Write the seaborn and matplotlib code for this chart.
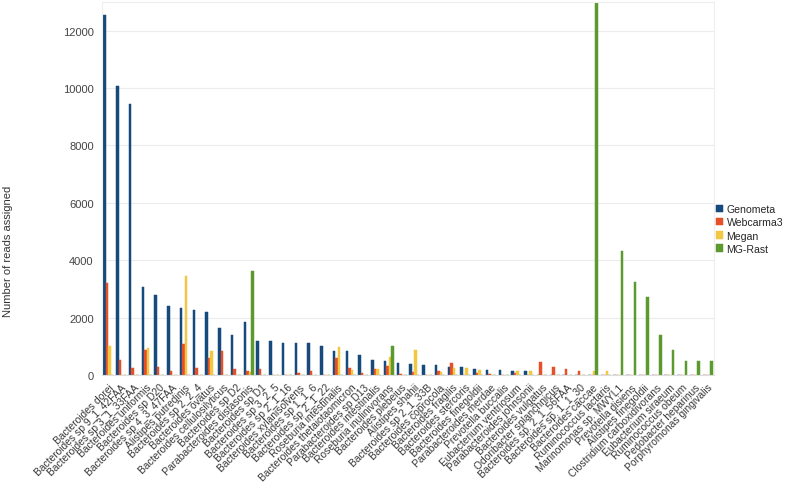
import matplotlib
matplotlib.use("Agg")
import matplotlib.pyplot as plt
import seaborn as sns
import pandas as pd
import numpy as np

categories = [
    "Bacteroides dorei", "Bacteroides sp 9_1_42FAA", "Bacteroides sp 3_1_33FAA",
    "Bacteroides uniformis", "Bacteroides sp D20", "Bacteroides sp 4_3_47FAA",
    "Alistipes putredinis", "Bacteroides sp 2_2_4", "Bacteroides ovatus",
    "Bacteroides cellulosilyticus", "Bacteroides sp D2", "Parabacteroides distasonis",
    "Bacteroides sp D1", "Bacteroides sp 3_2_5", "Bacteroides sp 2_1_16",
    "Bacteroides xylanisolvens", "Bacteroides sp 1_1_6", "Bacteroides sp 2_1_22",
    "Roseburia intestinalis", "Bacteroides thetaiotaomicron", "Parabacteroides sp D13",
    "Bacteroides intestinalis", "Roseburia inulinivorans", "Bacteroides plebeius",
    "Alistipes shahii", "Bacteroides sp 2_1_33B", "Bacteroides coprocola",
    "Bacteroides fragilis", "Bacteroides stercoris", "Bacteroides finegoldii",
    "Parabacteroides merdae", "Prevotella buccalis", "Eubacterium ventriosum",
    "Parabacteroides johnsonii", "Bacteroides vulgatus", "Odoribacter splanchnicus",
    "Bacteroides sp. 2_1_56FAA", "Bacteroides sp. 1_1_30", "Bacteroides caccae",
    "Ruminococcus lactaris", "Marinomonas sp. MWYL1", "Prevotella disiens",
    "Alistipes finegoldii", "Clostridium carboxidivorans", "Eubacterium siraeum",
    "Ruminococcus obeum", "Pedobacter heparinus", "Porphyromonas gingivalis",
]

genometa = [12530, 10070, 9440, 3080, 2790, 2420, 2330, 2270, 2190, 1630,
            1400, 1830, 1200, 1200, 1130, 1120, 1120, 1020, 850, 830,
            700, 520, 490, 420, 385, 350, 350, 290, 280, 220,
            185, 175, 140, 130, 0, 0, 0, 0, 0, 0,
            0, 0, 0, 0, 0, 0, 0, 0]
webcarma3 = [3220, 535, 230, 870, 290, 150, 1090, 255, 580, 840,
             210, 150, 210, 0, 0, 60, 130, 0, 605, 255,
             60, 210, 300, 25, 115, 0, 140, 430, 0, 80,
             35, 0, 80, 0, 450, 290, 210, 140, 0, 0,
             0, 0, 0, 0, 0, 0, 0, 0]
megan = [1010, 0, 0, 930, 0, 0, 3450, 0, 850, 0,
         0, 100, 0, 0, 0, 0, 0, 0, 990, 185,
         0, 200, 640, 0, 870, 0, 115, 255, 245, 165,
         0, 0, 150, 140, 0, 0, 0, 0, 140, 140,
         0, 0, 0, 0, 0, 0, 0, 0]
mgrast = [0, 0, 0, 0, 0, 0, 0, 0, 0, 0,
          0, 3640, 0, 0, 0, 0, 0, 0, 0, 0,
          0, 0, 1000, 0, 0, 0, 0, 0, 0, 0,
          0, 0, 0, 0, 0, 0, 0, 0, 15000, 0,
          4330, 3240, 2720, 1385, 885, 490, 490, 490]

series_names = ["Genometa", "Webcarma3", "Megan", "MG-Rast"]
colors = ["#174a7c", "#e4502a", "#f2c744", "#5c9a30"]

rows = []
for name, vals in zip(series_names, [genometa, webcarma3, megan, mgrast]):
    for c, v in zip(categories, vals):
        rows.append({"Species": c, "Method": name, "Reads": v})
df = pd.DataFrame(rows)

sns.set_theme(style="white")
plt.rcParams["font.family"] = ["Liberation Sans", "DejaVu Sans"]

fig = plt.figure(figsize=(7.87, 4.89), dpi=100)
ax = fig.add_axes([102 / 787, 1 - 376 / 489, (714 - 102) / 787, (376 - 3) / 489])

sns.barplot(data=df, x="Species", y="Reads", hue="Method", palette=colors,
            order=categories, hue_order=series_names, width=0.8,
            saturation=1, ax=ax, legend=True, linewidth=0)

# make thin bars look solid
for p in ax.patches:
    p.set_edgecolor(p.get_facecolor())
    p.set_linewidth(0.35)

ax.set_ylim(0, 13000)
ax.set_xlim(-0.5, len(categories) - 0.5)
ax.set_yticks(np.arange(0, 13000, 2000))
ax.yaxis.grid(True, color="#ececec", linewidth=0.8)
ax.set_axisbelow(True)
ax.tick_params(axis="y", length=0, labelsize=8, labelcolor="#444444", pad=6)

ax.set_xticks(range(len(categories)))
ax.set_xticklabels(categories, rotation=45, ha="right", rotation_mode="anchor",
                   fontsize=7.4, color="#383838")
ax.tick_params(axis="x", which="major", length=0, pad=5)
ax.set_xticks(np.arange(-0.5, len(categories), 1), minor=True)
ax.tick_params(axis="x", which="minor", length=4, color="#dddddd", width=0.8)

for s in ["top", "right", "left"]:
    ax.spines[s].set_color("#eeeeee")
    ax.spines[s].set_linewidth(0.8)
ax.spines["bottom"].set_color("#dddddd")
ax.spines["bottom"].set_linewidth(0.8)

ax.set_xlabel("")
ax.set_ylabel("")
fig.text(8 / 787, 1 - 251 / 489, "Number of reads assigned", rotation=90,
         ha="center", va="center", fontsize=8, color="#333333")

handles, labels = ax.get_legend_handles_labels()
ax.legend(handles, labels, loc="center left", bbox_to_anchor=(716 / 787, 1 - 230 / 489),
          bbox_transform=fig.transFigure, frameon=False, fontsize=7.6,
          handlelength=0.7, handleheight=0.7, handletextpad=0.3,
          labelspacing=0.3, borderaxespad=0, borderpad=0)

fig.savefig("out.png", dpi=100)
